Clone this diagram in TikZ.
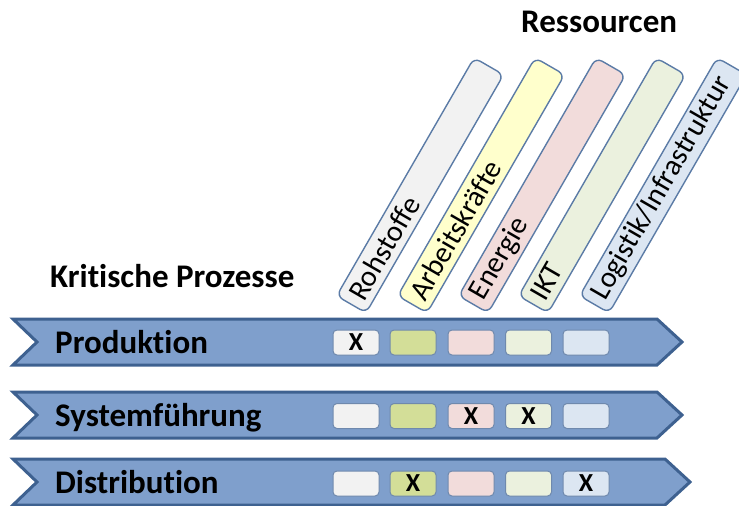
\documentclass[tikz,border=0pt]{standalone}
\usepackage{fontspec}
\setmainfont{Carlito}[Ligatures=NoCommon]
\begin{document}
\begin{tikzpicture}[x=1pt,y=-1pt,
  bandfill/.style={fill=bandblue, draw=banddark, line width=3pt, line join=miter},
  bandlabel/.style={anchor=base west, inner sep=0pt, font=\fontsize{33}{36}\selectfont\bfseries},
  heading/.style={anchor=base west, inner sep=0pt, font=\fontsize{33}{36}\selectfont\bfseries},
  resbar/.style={draw=bardark, line width=1.4pt, rounded corners=7pt, rotate=60, anchor=west,
    minimum height=34pt, text width=259pt, inner xsep=8pt, align=left,
    font=\fontsize{29.5}{31}\selectfont},
  cell/.style={draw=celldark, line width=1pt, rounded corners=4pt, minimum width=46pt,
    minimum height=25pt, inner sep=0pt, font=\fontsize{26}{28}\selectfont\bfseries},
]
\definecolor{bandblue}{HTML}{7F9FCC}
\definecolor{banddark}{HTML}{3E6190}
\definecolor{bardark}{HTML}{5B7BA6}
\definecolor{celldark}{HTML}{6F89AD}
\definecolor{cRoh}{HTML}{F2F2F2}
\definecolor{cArb}{HTML}{FFFFCC}
\definecolor{cArbCell}{HTML}{D3DE98}
\definecolor{cEne}{HTML}{F2DCDB}
\definecolor{cIKT}{HTML}{EBF1DE}
\definecolor{cLog}{HTML}{DCE6F2}

\useasboundingbox (0,0) rectangle (739,506);

% headings
\node[heading] (res) at (521,32) {Ressourcen};
\node[heading] (krit) at (50,287) {Kritische Prozesse};

% resource bars, tilted
\node[resbar, fill=cRoh] (rRoh) at (351,305) {Rohstoffe};
\node[resbar, fill=cArb] (rArb) at (412,305) {Arbeitskräfte};
\node[resbar, fill=cEne] (rEne) at (473,305) {Energie};
\node[resbar, fill=cIKT] (rIKT) at (533,305) {IKT};
\node[resbar, fill=cLog] (rLog) at (594,305) {Logistik/Infrastruktur};

% process chevrons
\draw[bandfill] (13,319) -- (657,319) -- (682,342) -- (657,365) -- (13,365) -- (37,342) -- cycle;
\draw[bandfill] (13,392) -- (657,392) -- (682,415) -- (657,438) -- (13,438) -- (37,415) -- cycle;
\draw[bandfill] (13,459) -- (665,459) -- (690,482) -- (665,505) -- (13,505) -- (37,482) -- cycle;

\node[bandlabel] (pProd) at (55,353) {Produktion};
\node[bandlabel] (pSys) at (55,426) {Systemführung};
\node[bandlabel] (pDist) at (55,493) {Distribution};

% matrix cells
\foreach \row/\y/\a/\b/\c/\d/\e in {1/342.5/X////, 2/416//{}/X/X/, 3/483.5//X///X}{
  \node[cell, fill=cRoh]     (c\row a) at (356,\y)   {\a};
  \node[cell, fill=cArbCell] (c\row b) at (413,\y)   {\b};
  \node[cell, fill=cEne]     (c\row c) at (471,\y)   {\c};
  \node[cell, fill=cIKT]     (c\row d) at (528.5,\y) {\d};
  \node[cell, fill=cLog]     (c\row e) at (586,\y)   {\e};
}
\end{tikzpicture}
\end{document}
